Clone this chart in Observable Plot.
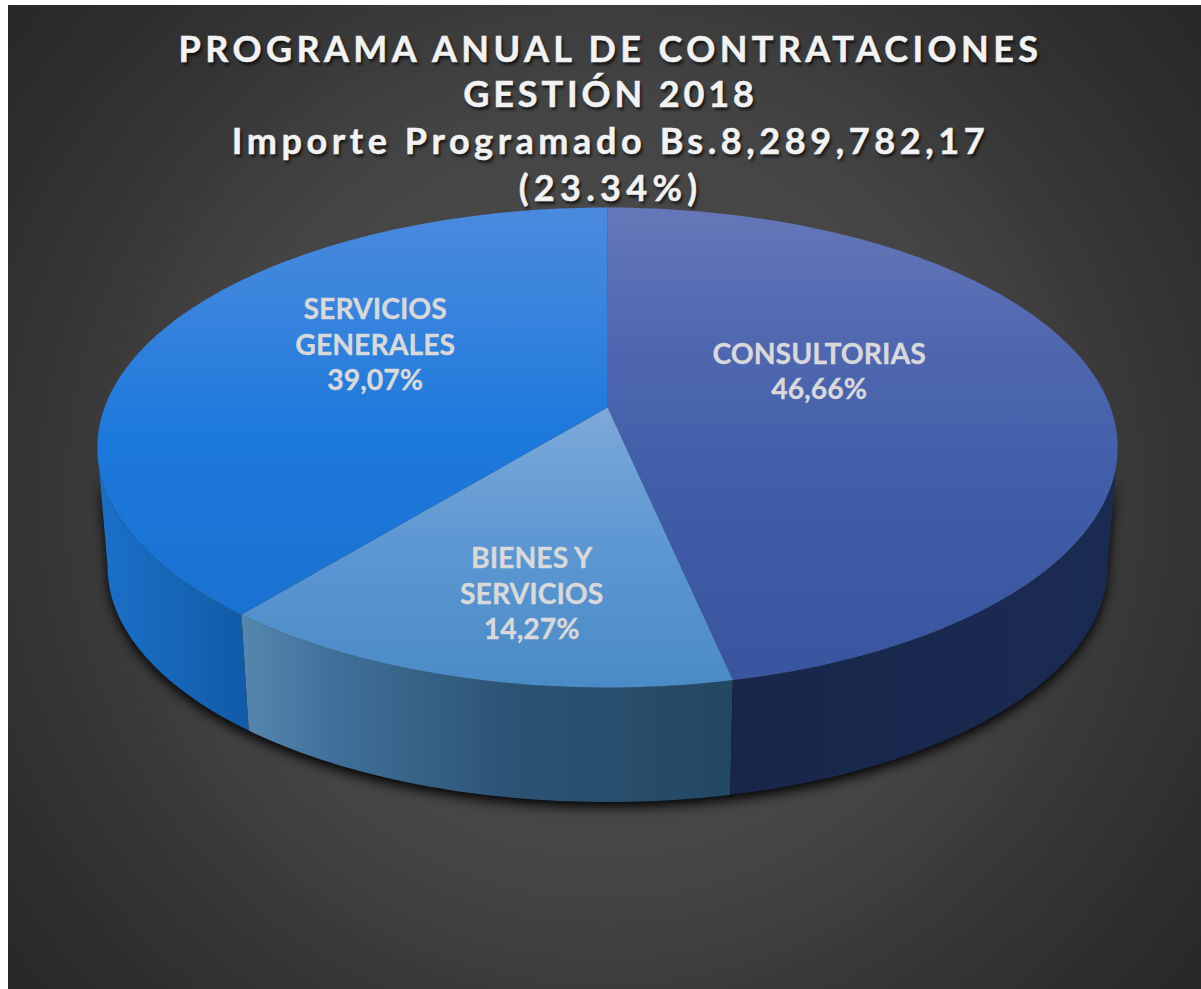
<!DOCTYPE html>
<html lang="es">
<head>
<meta charset="utf-8">
<script src="https://cdn.jsdelivr.net/npm/d3@7"></script>
<script src="https://cdn.jsdelivr.net/npm/@observablehq/plot@0.6"></script>
<style>
  html,body{margin:0;padding:0;background:#fff;overflow:hidden;width:1201px;height:989px}
  #bg{position:absolute;left:8px;top:5px;width:1193px;height:984px;
      background:radial-gradient(circle 780px at 50% 50%,#505050 0%,#444 51%,#333 76%,#272727 100%)}
  #title{position:absolute;z-index:2;left:14px;top:25px;width:1193px;text-align:center;
      font-family:Lato,sans-serif;font-weight:700;color:#f2f2f2;-webkit-text-stroke:0.5px #f2f2f2;
      text-shadow:2px 3px 3px rgba(0,0,0,.65);white-space:nowrap}
  #title div{height:47px;line-height:47px;font-size:36px}
  #title .a{letter-spacing:4.4px;height:45px}
  #title .b{letter-spacing:3.9px}
  #title .c{letter-spacing:4.6px}
  #title .d{letter-spacing:5.3px}
  #chart{position:absolute;left:0;top:205px}
</style>
</head>
<body>
<div id="bg"></div>
<div id="title">
  <div class="a">PROGRAMA ANUAL DE CONTRATACIONES</div>
  <div class="b">GESTIÓN 2018</div>
  <div class="c">Importe Programado Bs.8,289,782,17</div>
  <div class="d">(23.34%)</div>
</div>
<div id="chart"></div>
<script>
const categories = ["CONSULTORIAS", "BIENES Y SERVICIOS", "SERVICIOS GENERALES"];
const shares = [46.66, 14.27, 39.07];
const labelLines = ["CONSULTORIAS", "BIENES Y\nSERVICIOS", "SERVICIOS\nGENERALES"];

// perspective of the tilted disc
const k = 1 / 6, rimScale = 0.98, rimDrop = 0.515;
const top3d = (deg, r = 1) => {
  const t = deg * Math.PI / 180, u = r * Math.sin(t), v = r * Math.cos(t), d = 1 + k * v;
  return {x: u / d, y: v / d};
};
const rim = (deg) => {
  const p = top3d(deg);
  return {x: p.x * rimScale, y: p.y * rimScale - rimDrop};
};
const arc = (f, a, b) => {
  const n = Math.ceil(Math.abs(b - a)), out = [];
  for (let i = 0; i <= n; i++) out.push(f(a + (b - a) * i / n));
  return out;
};

let acc = 0;
const slices = categories.map((c, i) => {
  const start = acc * 3.6; acc += shares[i];
  return {c, i, start, end: acc * 3.6, mid: (start + acc * 3.6) / 2};
});
const topPoly = s => [{x: 0, y: 0}, ...arc(top3d, s.start, s.end)];
const sidePoly = (a, b) => [...arc(top3d, a, b), ...arc(rim, b, a)];
// where the disc's outline turns away from the viewer
const turn = Math.acos(-k) * 180 / Math.PI;

const defs = () => {
  const ns = "http://www.w3.org/2000/svg";
  const d = document.createElementNS(ns, "defs");
  const grad = (id, horizontal, stops) => {
    const g = document.createElementNS(ns, "linearGradient");
    g.setAttribute("id", id);
    g.setAttribute("x1", 0); g.setAttribute("y1", 0);
    g.setAttribute("x2", horizontal ? 1 : 0); g.setAttribute("y2", horizontal ? 0 : 1);
    for (const [o, c] of stops) {
      const s = document.createElementNS(ns, "stop");
      s.setAttribute("offset", o); s.setAttribute("stop-color", c);
      g.appendChild(s);
    }
    d.appendChild(g);
  };
  grad("top0", false, [[0, "#6577b8"], [0.3, "#4f67b0"], [0.6, "#405da8"], [1, "#3a55a0"]]);
  grad("top1", false, [[0, "#7da9d9"], [0.5, "#5c97d2"], [1, "#4a8bc7"]]);
  grad("top2", false, [[0, "#4a8ade"], [0.25, "#3884dd"], [0.55, "#1d79dc"], [1, "#1a72d0"]]);
  grad("side0", true, [[0, "#18264a"], [1, "#1a2b52"]]);
  grad("side1", true, [[0, "#5687af"], [0.2, "#3f6f98"], [0.55, "#2c5374"], [1, "#234864"]]);
  grad("side2", true, [[0, "#1a70c8"], [0.5, "#1666b8"], [1, "#115aa6"]]);
  return d;
};

const blur = (px) => (index, scales, values, dims, ctx, next) => {
  const g = next(index, scales, values, dims, ctx);
  g.style.filter = `blur(${px}px)`;
  return g;
};
const poly = (data, fill, extra = {}) =>
  Plot.line(data, {x: "x", y: "y", fill, stroke: "none", ...extra});

// anchors on the disc and pixel nudges for the three labels
const labelRadius = [0.42, 0.72, 0.5];
const labelNudge = [[3, -27], [21, 0], [-2, -26]];
const labels = slices.map(s => {
  const p = top3d(s.mid, labelRadius[s.i]);
  return Plot.text([{...p, t: `${labelLines[s.i]}\n${shares[s.i].toFixed(2).replace(".", ",")}%`}], {
    x: "x", y: "y", text: "t",
    dx: labelNudge[s.i][0], dy: labelNudge[s.i][1],
    fill: "#d9d9d9", stroke: "#d9d9d9", strokeWidth: 0.3,
    fontSize: 28.4, fontWeight: 700, fontFamily: "Lato, sans-serif",
    lineHeight: 1.25, textAnchor: "middle", lineAnchor: "middle"
  });
});

const plot = Plot.plot({
  width: 1201, height: 784,
  marginTop: 0, marginRight: 0, marginBottom: 0, marginLeft: 0,
  style: {background: "transparent", overflow: "visible"},
  x: {domain: [-1.2068, 1.1809], range: [0, 1201], axis: null},
  y: {domain: [0.8658, -2.4946], range: [0, 784], axis: null},
  marks: [
    defs,
    poly(sidePoly(turn, 360 - turn), "#000", {dy: 5, fillOpacity: 0.95, render: blur(6)}),
    poly(sidePoly(slices[2].start, 360 - turn), "url(#side2)"),
    poly(sidePoly(slices[1].start, slices[1].end), "url(#side1)"),
    poly(sidePoly(turn, slices[0].end), "url(#side0)"),
    ...slices.map(s => poly(topPoly(s), `url(#top${s.i})`)),
    ...labels
  ]
});
document.getElementById("chart").appendChild(plot);
</script>
</body>
</html>
